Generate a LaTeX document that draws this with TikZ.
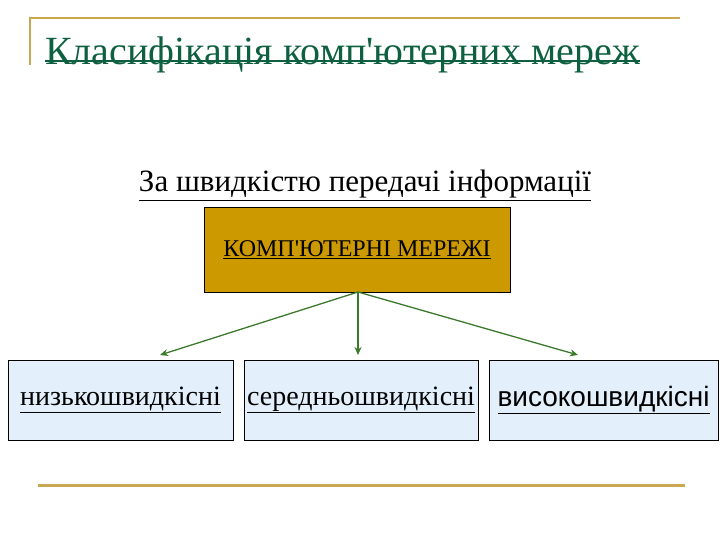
\documentclass[tikz,border=0pt]{standalone}
\usepackage{fontspec}
\usetikzlibrary{arrows.meta}
\setmainfont{Liberation Serif}
\newfontfamily\lsans{Liberation Sans}
\definecolor{gold}{HTML}{C8A850}
\definecolor{ttl}{HTML}{0E6040}
\definecolor{topfill}{HTML}{CC9900}
\definecolor{boxfill}{HTML}{E3F0FB}
\definecolor{arr}{HTML}{3A7A2A}
\begin{document}
\begin{tikzpicture}[x=1pt,y=-1pt,
  leaf/.style={draw=black,fill=boxfill,line width=0.8pt,minimum height=80pt,inner sep=0pt},
  conn/.style={draw=arr,line width=1.3pt,-{Stealth[length=8pt,width=7pt]}}]
\useasboundingbox (0,0) rectangle (720,540);
\draw[gold,line width=1.5pt] (30,65) -- (30,18) -- (680,18);
\draw[gold,line width=3pt] (38,485) -- (685,485);
\node[anchor=base west,inner sep=0pt,text=ttl,font=\fontsize{40}{44}\selectfont] (title) at (45,65) {Класифікація комп\textquotesingle ютерних мереж};
\draw[ttl,line width=2.5pt] ([yshift=4pt]title.base west) -- ([yshift=4pt]title.base east);
\node[anchor=base,inner sep=0pt,font=\fontsize{31}{34}\selectfont] (sub) at (365,192) {\underline{За швидкістю передачі інформації}};
\node[draw=black,fill=topfill,line width=0.8pt,minimum width=306pt,minimum height=85pt,inner sep=0pt,font=\fontsize{24}{28}\selectfont] (root) at (357,249.5) {\underline{КОМП\textquotesingle ЮТЕРНІ МЕРЕЖІ}};
\node[leaf,minimum width=225pt,font=\fontsize{28}{32}\selectfont] (a) at (120.5,400) {\underline{низькошвидкісні}};
\node[leaf,minimum width=234pt,font=\fontsize{28}{32}\selectfont] (b) at (361,400) {\underline{середньошвидкісні}};
\node[leaf,minimum width=229pt,font=\lsans\fontsize{28}{32}\selectfont] (c) at (603.5,400) {\underline{високошвидкісні}};
\coordinate (o) at (358,292);
\coordinate (ta) at (160,355);
\coordinate (tb) at (358,355);
\coordinate (tc) at (578,355);
\draw[conn] (o) -- (ta);
\draw[conn] (o) -- (tb);
\draw[conn] (o) -- (tc);
\end{tikzpicture}
\end{document}
